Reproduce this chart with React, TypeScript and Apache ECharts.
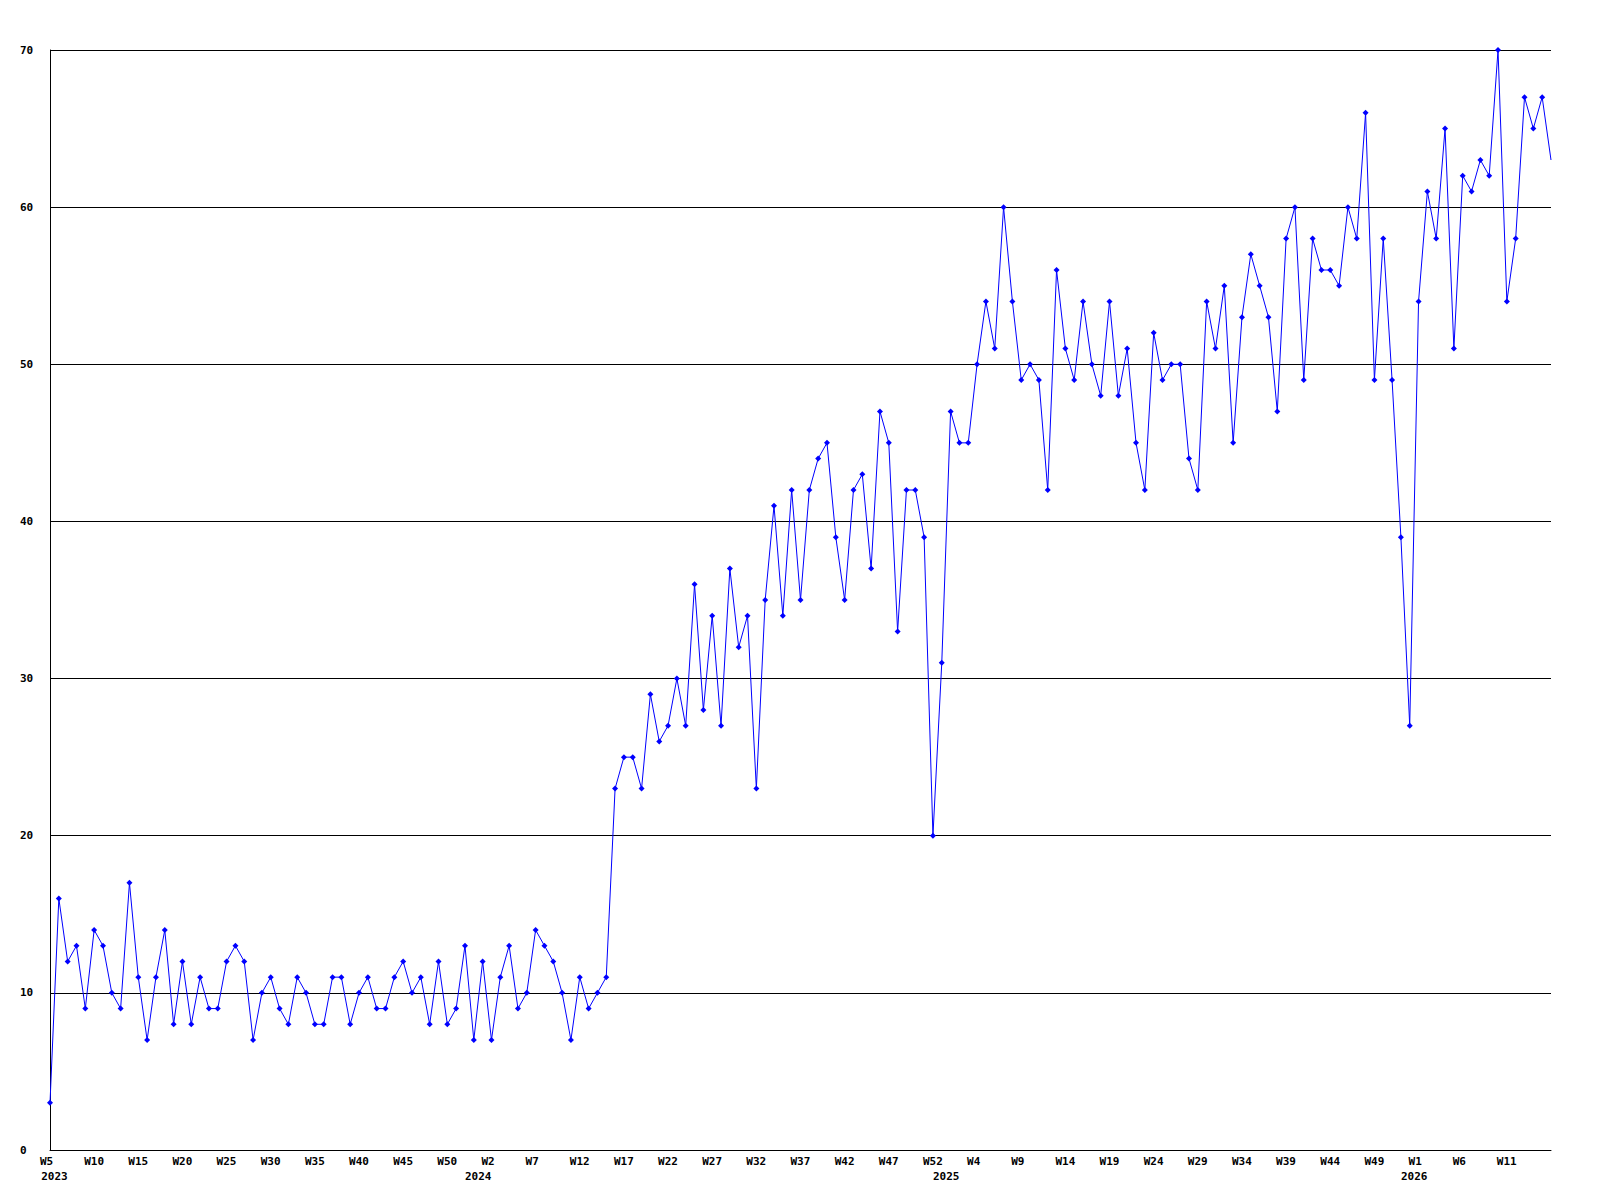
import React, { useEffect, useRef } from "react";
import * as echarts from "echarts";

// Week ranges shown per year
const years = [2023, 2024, 2025, 2026];
const firstWeek = [5, 1, 1, 1];
const lastWeek = [53, 53, 53, 16];

// Weekly values per year
const values2023 = [3, 16, 12, 13, 9, 14, 13, 10, 9, 17, 11, 7, 11, 14, 8, 12, 8, 11, 9, 9, 12, 13, 12, 7, 10, 11, 9, 8, 11, 10, 8, 8, 11, 11, 8, 10, 11, 9, 9, 11, 12, 10, 11, 8, 12, 8, 9, 13, 7];
const values2024 = [12, 7, 11, 13, 9, 10, 14, 13, 12, 10, 7, 11, 9, 10, 11, 23, 25, 25, 23, 29, 26, 27, 30, 27, 36, 28, 34, 27, 37, 32, 34, 23, 35, 41, 34, 42, 35, 42, 44, 45, 39, 35, 42, 43, 37, 47, 45, 33, 42, 42, 39, 20, 31];
const values2025 = [47, 45, 45, 50, 54, 51, 60, 54, 49, 50, 49, 42, 56, 51, 49, 54, 50, 48, 54, 48, 51, 45, 42, 52, 49, 50, 50, 44, 42, 54, 51, 55, 45, 53, 57, 55, 53, 47, 58, 60, 49, 58, 56, 56, 55, 60, 58, 66, 49, 58, 49, 39, 27];
const values2026 = [54, 61, 58, 65, 51, 62, 61, 63, 62, 70, 54, 58, 67, 65, 67, 63];

const yTicks = [0, 10, 20, 30, 40, 50, 60, 70];

const FONT = "DejaVu Sans Mono";

export default function App() {
  const ref = useRef<HTMLDivElement>(null);

  useEffect(() => {
    if (!ref.current) return;
    const chart = echarts.init(ref.current, undefined, { renderer: "svg" });

    const categories: string[] = [];
    const yearStartIdx: number[] = [];
    years.forEach((y, yi) => {
      yearStartIdx.push(categories.length);
      for (let w = firstWeek[yi]; w <= lastWeek[yi]; w++) categories.push(`${y}-W${w}`);
    });
    const values = [...values2023, ...values2024, ...values2025, ...values2026];
    const lastIdx = values.length - 1;
    const data = values.map((v, i) => (i === lastIdx ? { value: v, symbol: "none" } : v));

    const yearPos = yearStartIdx.map((s) => Math.max(s - 0.5, 0.5));
    const posToYear: Record<string, number> = {};
    yearPos.forEach((p, i) => (posToYear[String(p)] = years[i]));

    const labelStyle = {
      fontFamily: FONT,
      fontSize: 11,
      fontWeight: "bold" as const,
      color: "#000",
    };

    chart.setOption({
      animation: false,
      backgroundColor: "#fff",
      grid: { left: 50, right: 49, top: 50, bottom: 50, containLabel: false },
      xAxis: [
        {
          type: "category",
          data: categories,
          boundaryGap: false,
          axisLine: { show: true, lineStyle: { color: "#000", width: 1 } },
          axisTick: { show: false },
          splitLine: { show: false },
          axisLabel: {
            ...labelStyle,
            interval: (i: number) => i % 5 === 0 && i < lastIdx,
            margin: 6,
            align: "left",
            padding: [0, 0, 0, -10],
            formatter: (v: string) => "W" + v.split("-W")[1],
          },
        },
        {
          type: "value",
          position: "bottom",
          min: 0,
          max: lastIdx,
          offset: 15,
          axisLine: { show: false },
          axisTick: { show: false },
          splitLine: { show: false },
          axisLabel: {
            ...labelStyle,
            margin: 6,
            customValues: yearPos,
            showMinLabel: true,
            showMaxLabel: true,
            hideOverlap: false,
            formatter: (v: number) => String(posToYear[String(v)] ?? ""),
          },
        },
      ],
      yAxis: {
        type: "value",
        min: yTicks[0],
        max: yTicks[yTicks.length - 1],
        interval: 10,
        axisLine: { show: true, lineStyle: { color: "#000", width: 1 } },
        axisTick: { show: false },
        splitLine: { show: true, lineStyle: { color: "#000", width: 1 } },
        axisLabel: {
          ...labelStyle,
          margin: 30,
          align: "left",
        },
      },
      series: [
        {
          type: "line",
          xAxisIndex: 0,
          data,
          symbol: "diamond",
          symbolSize: 6,
          showAllSymbol: true,
          lineStyle: { color: "#0000ff", width: 1 },
          itemStyle: { color: "#0000ff" },
          emphasis: { disabled: true },
        },
      ],
    });

    return () => chart.dispose();
  }, []);

  return (
    <div
      ref={ref}
      style={{ position: "absolute", left: 0, top: 0, width: 1600, height: 1200, background: "#fff" }}
    />
  );
}
